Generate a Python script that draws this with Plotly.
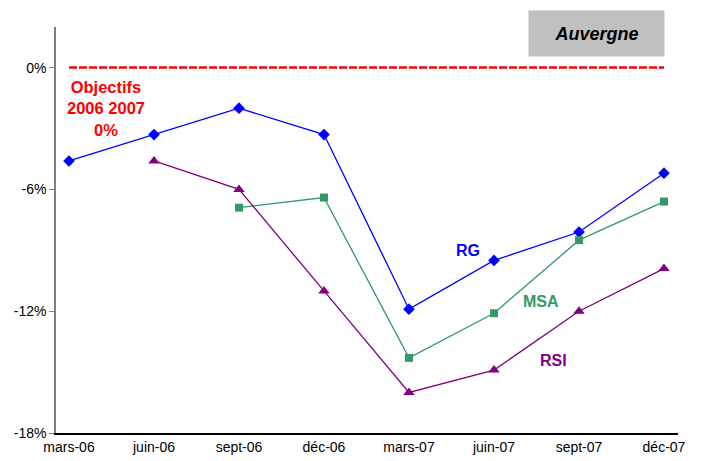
import plotly.graph_objects as go

categories = ["mars-06", "juin-06", "sept-06", "déc-06", "mars-07", "juin-07", "sept-07", "déc-07"]
objectif = [0, 0, 0, 0, 0, 0, 0, 0]
rg = [-4.6, -3.3, -2.0, -3.3, -11.9, -9.5, -8.1, -5.2]
msa = [None, None, -6.9, -6.4, -14.3, -12.1, -8.5, -6.6]
rsi = [None, -4.6, -6.0, -11.0, -16.0, -14.9, -12.0, -9.9]
y_ticks = [0, -6, -12, -18]
y_tick_labels = ["0%", "-6%", "-12%", "-18%"]

x = list(range(len(categories)))

fig = go.Figure()
fig.add_trace(go.Scatter(x=x, y=objectif, mode="lines",
                         line=dict(color="#FF0000", width=2.5, dash="8px,2px"),
                         showlegend=False, hoverinfo="skip"))
fig.add_trace(go.Scatter(x=x, y=rg, mode="lines+markers", name="RG",
                         line=dict(color="#0000FF", width=1.3),
                         marker=dict(symbol="diamond", size=9, color="#0000FF")))
fig.add_trace(go.Scatter(x=x, y=msa, mode="lines+markers", name="MSA",
                         line=dict(color="#339966", width=1.3),
                         marker=dict(symbol="square", size=8, color="#339966")))
fig.add_trace(go.Scatter(x=x, y=rsi, mode="lines+markers", name="RSI",
                         line=dict(color="#800080", width=1.3),
                         marker=dict(symbol="triangle-up", size=10, color="#800080")))

font = "Arial, Liberation Sans, sans-serif"
fig.add_annotation(x=0.43, y=-2.0, xref="x", yref="y",
                   text="Objectifs<br>2006 2007<br>0%", showarrow=False,
                   font=dict(family=font, size=16.5, color="#FF0000", weight="bold"),
                   align="center")
fig.add_annotation(x=4.7, y=-9.0, text="RG", showarrow=False,
                   font=dict(family=font, size=16, color="#0000FF", weight="bold"))
fig.add_annotation(x=5.55, y=-11.5, text="MSA", showarrow=False,
                   font=dict(family=font, size=16, color="#339966", weight="bold"))
fig.add_annotation(x=5.7, y=-14.45, text="RSI", showarrow=False,
                   font=dict(family=font, size=16, color="#800080", weight="bold"))
fig.add_annotation(x=0.979, y=1.0, xref="paper", yref="paper",
                   xanchor="right", yanchor="top", yshift=17,
                   text="<i>Auvergne</i>", showarrow=False,
                   width=133, height=43, bgcolor="#C0C0C0",
                   font=dict(family=font, size=18, color="#000000", weight="bold"))

fig.update_layout(
    width=694, height=453,
    margin=dict(l=48, r=24, t=19, b=28),
    paper_bgcolor="white", plot_bgcolor="white",
    showlegend=False,
    font=dict(family=font, size=14, color="#000000"),
    xaxis=dict(tickmode="array", tickvals=x, ticktext=categories,
               range=[-0.153, 7.165], showgrid=False, zeroline=False,
               showline=True, linecolor="#000000", linewidth=1.5,
               ticks="", tickfont=dict(size=14), automargin=False),
    yaxis=dict(tickmode="array", tickvals=y_ticks, ticktext=y_tick_labels,
               range=[-18, 2], showgrid=False, zeroline=False,
               showline=True, linecolor="#808080", linewidth=1.5,
               ticks="outside", ticklen=5, tickcolor="#808080",
               tickfont=dict(size=14), automargin=False),
)

fig.write_html("out.html")
